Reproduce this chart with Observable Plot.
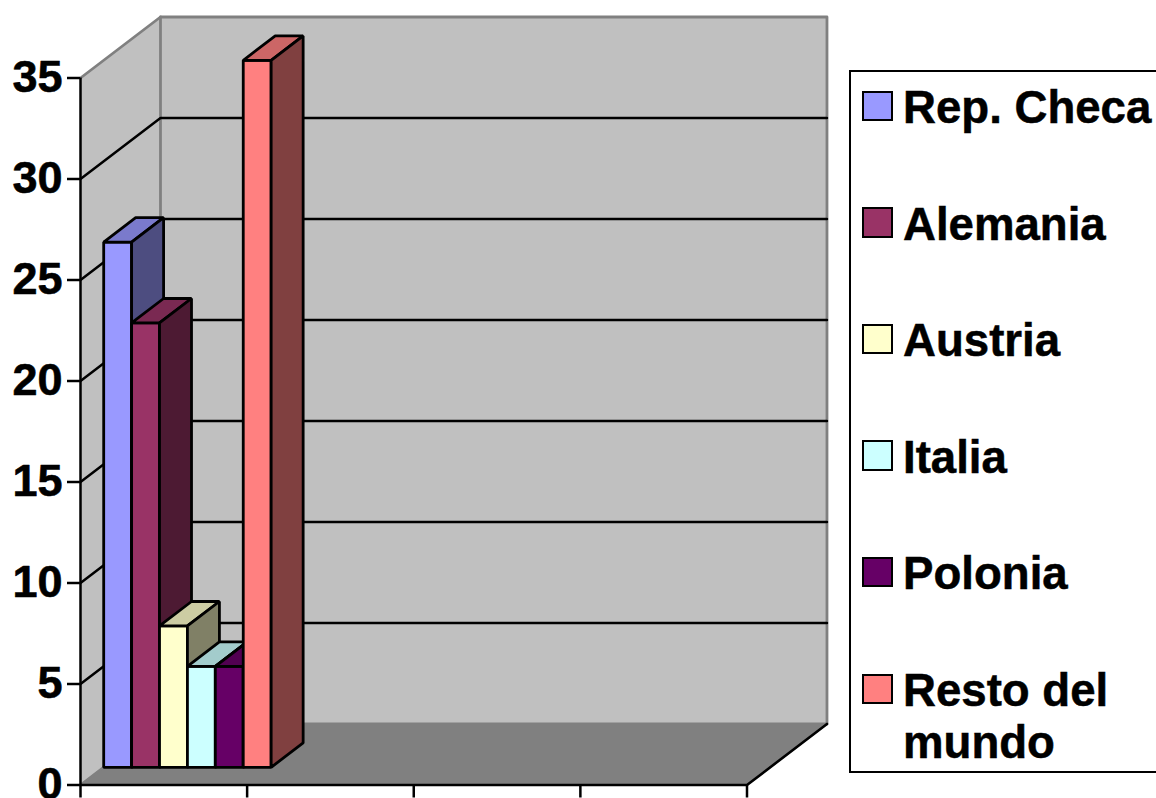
<!DOCTYPE html>
<html>
<head>
<meta charset="utf-8">
<script src="https://cdn.jsdelivr.net/npm/d3@7"></script>
<script src="https://cdn.jsdelivr.net/npm/@observablehq/plot@0.6"></script>
<style>
  html, body { margin: 0; padding: 0; background: #fff; overflow: hidden; }
  #wrap { position: relative; width: 1156px; height: 798px; overflow: hidden; font-family: "Liberation Sans", Arial, sans-serif; }
  #legend { position: absolute; left: 848.5px; top: 70px; width: 320px; height: 699px; border: 2.4px solid #000; background: #fff; box-sizing: content-box; }
  .row { position: absolute; left: 0; font-size: 45.6px; font-weight: bold; line-height: 52px; color: #000; -webkit-text-stroke: 0.5px #000; }
  .row .sw { position: absolute; left: 11.5px; top: 10.6px; width: 26.5px; height: 26.5px; border: 2.6px solid #000; -webkit-text-stroke: 0; }
  .row .tx { position: absolute; left: 52.5px; top: 2px; width: 256px; }
</style>
</head>
<body>
<div id="wrap"></div>
<script>
const categories = ["Rep. Checa", "Alemania", "Austria", "Italia", "Polonia", "Resto del mundo"];
const values = [26, 22, 7, 5, 5, 35];
const yTicks = [0, 5, 10, 15, 20, 25, 30, 35];
const xTicks = [0, 1, 2, 3, 4];
const palette = ["#9999FF", "#993366", "#FFFFCC", "#CCFFFF", "#660066", "#FF8080"];

// oblique projection of (x, value, depth) in data units
const depthX = 0.48, depthY = 3.02;
const P = (x, v, d) => ({x: x + d * depthX, y: v + d * depthY});
const shade = (c, k) => { const r = d3.rgb(c); return d3.rgb(r.r * k, r.g * k, r.b * k).formatHex(); };
const poly = (id, fill, pts) => pts.map(p => ({...p, id, fill}));

const xMax = 4, yMax = 35;
const backWall = poly("back", "#C0C0C0", [P(0,0,1), P(xMax,0,1), P(xMax,yMax,1), P(0,yMax,1)]);
const sideWall = poly("side", "#C0C0C0", [P(0,0,0), P(0,0,1), P(0,yMax,1), P(0,yMax,0)]);
const floor = poly("floor", "#808080", [P(0,0,0), P(xMax,0,0), P(xMax,0,1), P(0,0,1)]);

const grid = yTicks.filter(v => v > 0 && v < yMax).flatMap(v =>
  poly("g" + v, "none", [P(0,v,0), P(0,v,1), P(xMax,v,1)]));
const wallEdges = [
  ...poly("e1", "none", [P(0,yMax,0), P(0,yMax,1), P(xMax,yMax,1), P(xMax,0,1), P(0,0,1)]),
  ...poly("e2", "none", [P(0,0,1), P(0,yMax,1)]),
  ...poly("e3", "none", [P(0,0,0), P(0,0,1)])
];

const barW = 0.1675, d0 = 0.29, d1 = 0.69;
const bars = values.flatMap((v, i) => {
  const a = i * barW, b = a + barW, c = palette[i];
  return [
    ...poly("f" + i, c, [P(a,0,d0), P(b,0,d0), P(b,v,d0), P(a,v,d0)]),
    ...poly("t" + i, shade(c, 0.8), [P(a,v,d0), P(b,v,d0), P(b,v,d1), P(a,v,d1)]),
    ...poly("s" + i, shade(c, 0.5), [P(b,0,d0), P(b,0,d1), P(b,v,d1), P(b,v,d0)])
  ];
});

const filled = (data, opts) => Plot.line(data, {x: "x", y: "y", z: "id", fill: "fill", curve: "linear-closed", ...opts});
const open = (data, opts) => Plot.line(data, {x: "x", y: "y", z: "id", ...opts});

const chart = Plot.plot({
  width: 1156,
  height: 798,
  marginLeft: 80,
  marginRight: 409.5,
  marginTop: 77.5,
  marginBottom: 13.5,
  style: {fontFamily: "'Liberation Sans', Arial, sans-serif", background: "white"},
  x: {type: "linear", domain: [0, xMax], axis: null},
  y: {type: "linear", domain: [0, yMax], axis: null},
  color: {type: "identity"},
  marks: [
    filled(backWall, {stroke: "none"}),
    filled(sideWall, {stroke: "none"}),
    filled(floor, {stroke: "#6e6e6e", strokeWidth: 1.5}),
    open(wallEdges, {stroke: "#808080", strokeWidth: 2.8}),
    open(grid, {stroke: "#000", strokeWidth: 2.5}),
    open(poly("fr", "none", [P(xMax,0,0), P(xMax,0,1)]), {stroke: "#000", strokeWidth: 2.6}),
    filled(bars, {stroke: "#000", strokeWidth: 2.8, strokeLinejoin: "miter"}),
    Plot.ruleX([0], {y1: 0, y2: yMax, stroke: "#000", strokeWidth: 2.5}),
    Plot.ruleY([0], {x1: 0, x2: xMax, stroke: "#000", strokeWidth: 2.6}),
    Plot.axisY({ticks: yTicks, tickSize: 13, tickPadding: 5, strokeWidth: 2.5, fontSize: 45, fontWeight: "bold", label: null, fill: "#000", stroke: "#000", textStroke: "#000", textStrokeWidth: 0.6}),
    Plot.axisX({ticks: xTicks, tickSize: 13, tickFormat: () => "", strokeWidth: 2.5, label: null, stroke: "#000"})
  ]
});

const wrap = document.getElementById("wrap");
wrap.appendChild(chart);
const legend = document.createElement("div");
legend.id = "legend";
categories.forEach((name, i) => {
  const row = document.createElement("div");
  row.className = "row";
  row.style.top = (8 + i * 116.6) + "px";
  const sw = document.createElement("div");
  sw.className = "sw";
  sw.style.background = palette[i];
  const tx = document.createElement("div");
  tx.className = "tx";
  tx.textContent = name;
  row.append(sw, tx);
  legend.appendChild(row);
});
wrap.appendChild(legend);
</script>
</body>
</html>
